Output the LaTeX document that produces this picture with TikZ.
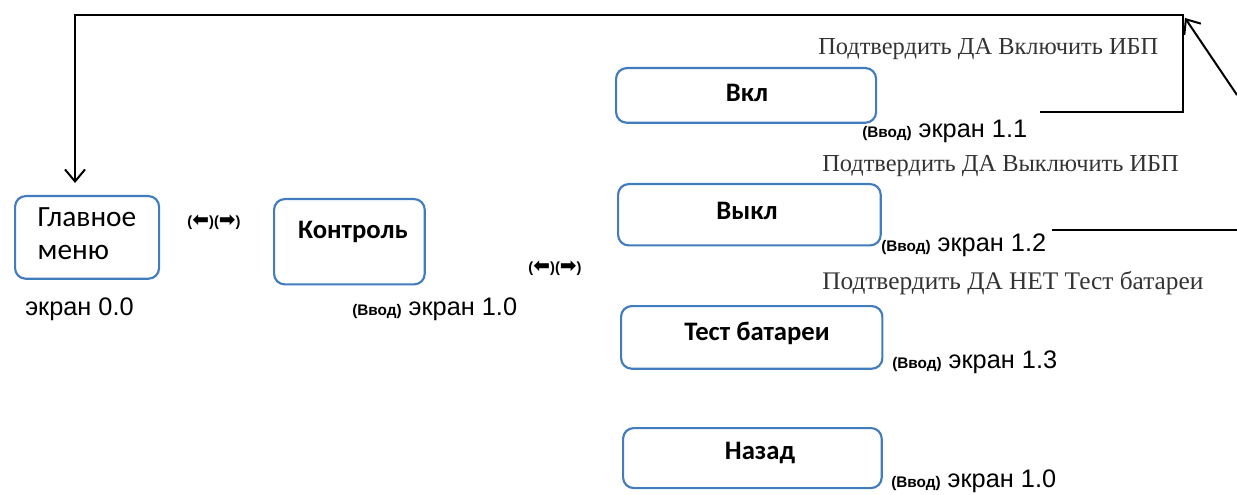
\documentclass[tikz,border=0pt]{standalone}
\usepackage{fontspec}
\usetikzlibrary{arrows.meta}
\newfontfamily\boxfont{Carlito}
\newfontfamily\arialfont{Liberation Sans}
\newfontfamily\seriffont{Liberation Serif}
\newfontfamily\symfont{DejaVu Sans}
\definecolor{boxblue}{RGB}{65,125,190}
\newcommand{\bigarr}[1]{\raisebox{-0.3pt}{\symfont\bfseries\fontsize{15}{15}\selectfont\char"#1}}
\newcommand{\arrs}{{\arialfont\bfseries(}\bigarr{2B05}{\arialfont\bfseries)(}\bigarr{27A1}{\arialfont\bfseries)}}
\newcommand{\vvod}{{\arialfont\bfseries\fontsize{11.5}{12}\selectfont(Ввод)}}
\tikzset{
  menubox/.style={draw=boxblue, line width=1.6pt, rounded corners=8pt, fill=white, inner sep=0pt},
  boxtext/.style={font=\boxfont\bfseries\fontsize{20}{24}\selectfont, inner sep=0pt},
  screen/.style={font=\arialfont\fontsize{19}{22}\selectfont, inner sep=0pt, anchor=base west},
  confirm/.style={font=\seriffont\fontsize{18.3}{22}\selectfont, text=black!80, inner sep=0pt, anchor=base west},
  arrlbl/.style={font=\fontsize{11}{12}\selectfont, inner sep=0pt},
  wire/.style={line width=1.5pt, black},
  tip/.style={-{Straight Barb[length=9pt,width=15pt,line width=1.5pt]}}
}
\begin{document}
\begin{tikzpicture}[x=0.75pt,y=-0.75pt]
\useasboundingbox (0,0) rectangle (1237,495);
% boxes
\node[menubox, minimum width=108pt, minimum height=62pt, anchor=north west] (main) at (14,195) {};
\node[font=\boxfont\fontsize{22}{24.5}\selectfont, align=left, inner sep=0pt] (maintext) at (87,234) {Главное\\меню};
\node[menubox, minimum width=113pt, minimum height=64pt, anchor=north west] (ctrl) at (273,198) {};
\node[boxtext] (ctrltext) at (353,232) {Контроль};
\node[menubox, minimum width=195pt, minimum height=41pt, anchor=north west] (on) at (615,67) {};
\node[boxtext] (ontext) at (747,93) {Вкл};
\node[menubox, minimum width=197pt, minimum height=46pt, anchor=north west] (off) at (617,183) {};
\node[boxtext] (offtext) at (747,211) {Выкл};
\node[menubox, minimum width=196pt, minimum height=47pt, anchor=north west] (test) at (620,305) {};
\node[boxtext] (testtext) at (757,333) {Тест батареи};
\node[menubox, minimum width=194pt, minimum height=45pt, anchor=north west] (back) at (622,427) {};
\node[boxtext] (backtext) at (760,453) {Назад};
% labels
\node[arrlbl] (nav1) at (214,222) {\arrs};
\node[arrlbl] (nav2) at (555,268) {\arrs};
\node[screen] (s00) at (25,315) {экран 0.0};
\node[screen] (s10) at (352,315) {\vvod\ экран 1.0};
\node[screen] (s11) at (862,138) {\vvod\ экран 1.1};
\node[screen] (s12) at (881,252) {\vvod\ экран 1.2};
\node[screen] (s13) at (892,368) {\vvod\ экран 1.3};
\node[screen] (s10b) at (891,487) {\vvod\ экран 1.0};
\node[confirm] (c1) at (818,55) {Подтвердить ДА Включить ИБП};
\node[confirm] (c2) at (822,172) {Подтвердить ДА Выключить ИБП};
\node[confirm, font=\seriffont\fontsize{19}{22}\selectfont] (c3) at (822,289) {Подтвердить ДА НЕТ Тест батареи};
% connectors
\coordinate (onout) at (1040,112);
\coordinate (corner) at (1183,15);
\coordinate (mainin) at (75,183);
\draw[wire, tip] (onout) -| (corner) -| (mainin);
\coordinate (offout) at (1052,230);
\coordinate (offend) at (1237,230);
\draw[wire] (offout) -- (offend);
\coordinate (diagstart) at (1237,95);
\coordinate (diagend) at (1185,18);
\draw[wire, tip] (diagstart) -- (diagend);
\end{tikzpicture}
\end{document}
